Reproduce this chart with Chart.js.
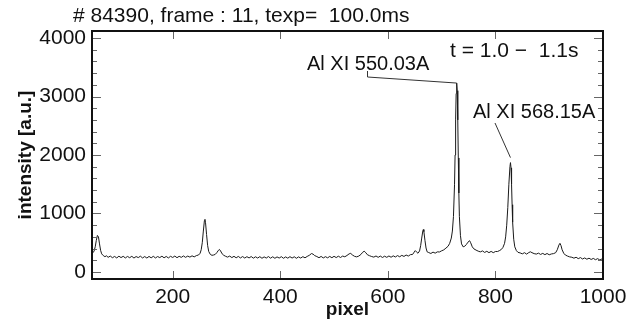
<!DOCTYPE html>
<html>
<head>
<meta charset="utf-8">
<script src="https://cdn.jsdelivr.net/npm/chart.js@4.4.1/dist/chart.umd.min.js"></script>
<style>
html,body{margin:0;padding:0;background:#fff;}
#wrap{width:640px;height:322px;}
</style>
</head>
<body>
<div id="wrap"><canvas id="spec"></canvas></div>
<script>
// spectrum (pixel, intensity)
var pixels = [50,52,54,56,58,60,62,64,66,68,71,74,77,80,84,88,92,96,100,104,108,112,116,120,124,128,132,136,140,144,148,152,156,160,164,168,172,176,180,184,188,192,196,200,204,208,212,216,220,224,228,232,236,240,244,248,251,253,255,257,259,260,261,263,265,267,270,273,276,279,282,285,287,289,292,295,298,302,306,310,314,318,322,326,330,334,338,342,346,350,354,358,362,366,370,374,378,382,386,390,394,398,402,406,410,414,418,422,426,430,434,438,442,446,450,454,458,461,464,468,472,476,480,484,488,492,496,500,504,508,512,516,520,524,528,531,534,538,542,546,550,553,556,559,562,566,570,574,578,582,586,590,594,598,602,606,610,614,618,622,626,630,634,638,642,646,649,651,653,656,659,661,663,665,666,667,669,671,673,676,680,684,688,692,696,700,704,708,712,715,718,720,722,724,725,726,727,728,729,730,731,732,733,735,737,740,743,746,749,752,754,757,760,764,768,772,776,780,784,788,792,796,800,804,808,811,814,817,819,821,823,825,827,828,829,830,831,832,834,836,839,842,846,850,854,858,862,865,868,872,876,880,884,888,892,896,900,904,908,912,915,918,920,922,924,927,930,934,938,942,946,950,954,958,962,966,970,974,978,982,986,990,994,998,1000];
var intensity = [315,330,360,430,540,625,600,480,370,310,
  280,262,276,250,272,244,266,240,270,246,268,240,266,244,268,238,264,246,270,240,264,238,266,242,268,240,264,246,270,242,266,240,268,248,272,244,268,250,274,250,272,254,276,258,280,
  290,320,380,500,700,880,900,850,640,450,350,300,285,290,300,330,370,385,360,310,285,270,
  254,272,246,268,242,266,240,264,238,262,240,264,236,260,238,262,234,258,238,264,236,260,234,258,238,262,234,258,236,262,238,260,234,258,238,262,242,266,
  285,315,305,280,
  264,244,266,240,262,242,266,244,268,246,270,248,272,260,282,
  310,318,292,268,258,272,300,335,355,330,295,
  278,264,254,274,250,272,248,270,250,274,252,276,256,280,260,284,266,290,272,296,300,
  340,365,345,320,360,450,580,700,725,690,540,410,345,
  332,316,340,322,344,342,362,378,408,440,
  490,580,700,950,1500,2000,2600,3050,3230,3100,2600,1950,1350,950,620,480,430,440,470,510,535,500,430,395,
  374,356,344,360,334,354,330,352,330,350,350,368,
  385,420,490,600,800,1100,1500,1800,1870,1780,1500,1150,850,560,430,365,335,
  326,310,330,306,332,345,330,314,306,322,300,318,296,316,294,308,314,330,
  380,460,490,450,380,320,290,
  272,258,252,236,252,228,246,222,240,218,236,214,232,210,228,206,222,205];
var xTicks = [200,400,600,800,1000];
var yTicks = [0,1000,2000,3000,4000];
var peakLabels = ['Al XI 550.03A','Al XI 568.15A'];
var peakPixels = [728,828];
var peakValues = [3230,1870];

var FONT = '"Liberation Sans", Arial, Helvetica, sans-serif';

var decor = {
  id: 'decor',
  afterDraw: function(chart){
    var c = chart.ctx, a = chart.chartArea;
    var xs = chart.scales.x, ys = chart.scales.y;
    c.save();
    // inside ticks on all four sides
    c.strokeStyle = '#666';
    c.lineWidth = 1;
    c.beginPath();
    for (var v = 0; v <= 4000; v += 200) {
      var py = Math.round(ys.getPixelForValue(v)) + 0.5;
      var len = (v % 1000 === 0) ? 9 : 5;
      c.moveTo(a.left, py); c.lineTo(a.left + len, py);
      c.moveTo(a.right, py); c.lineTo(a.right - len, py);
    }
    xTicks.forEach(function(t){
      var px = Math.round(xs.getPixelForValue(t)) + 0.5;
      c.moveTo(px, a.bottom); c.lineTo(px, a.bottom - 8);
      c.moveTo(px, a.top); c.lineTo(px, a.top + 8);
    });
    c.stroke();
    // frame
    c.strokeStyle = '#111';
    c.lineWidth = 2;
    c.strokeRect(a.left, a.top, a.right - a.left, a.bottom - a.top);
    // texts
    c.fillStyle = '#111';
    c.font = '21px ' + FONT;
    c.textBaseline = 'alphabetic';
    c.textAlign = 'left';
    c.fillText('# 84390, frame : 11, texp=  100.0ms', 73, 22);
    c.fillText('t = 1.0 \u2212  1.1s', 450, 57);
    c.font = '20px ' + FONT;
    c.fillText(peakLabels[0], 307, 70);
    c.fillText(peakLabels[1], 473, 118);
    // leader lines to the two lines
    c.strokeStyle = '#333';
    c.lineWidth = 1;
    var p1x = xs.getPixelForValue(peakPixels[0]), p1y = ys.getPixelForValue(peakValues[0]);
    var p2x = xs.getPixelForValue(peakPixels[1]), p2y = ys.getPixelForValue(peakValues[1]);
    c.beginPath();
    c.moveTo(367.5, 71); c.lineTo(367.5, 77); c.lineTo(p1x, p1y);
    c.moveTo(495, 123); c.lineTo(p2x, p2y - 5);
    c.stroke();
    c.restore();
  }
};

new Chart(document.getElementById('spec'), {
  type: 'line',
  data: {
    datasets: [{
      data: pixels.map(function(p, i){ return {x: p, y: intensity[i]}; }),
      borderColor: '#1a1a1a',
      borderWidth: 1,
      pointRadius: 0,
      tension: 0,
      fill: false
    }]
  },
  options: {
    responsive: true,
    maintainAspectRatio: false,
    animation: false,
    devicePixelRatio: 1,
    layout: { padding: { top: 31, right: 37, left: 0, bottom: 0 } },
    plugins: { legend: { display: false }, tooltip: { enabled: false }, title: { display: false } },
    scales: {
      x: {
        type: 'linear',
        min: 50, max: 1000,
        afterBuildTicks: function(ax){ ax.ticks = xTicks.map(function(v){ return {value: v}; }); },
        afterFit: function(ax){ ax.height = 43; },
        grid: { display: false, drawTicks: false },
        border: { display: false },
        ticks: { color: '#111', padding: 6, maxRotation: 0, font: { family: FONT, size: 21 },
                 callback: function(v){ return String(v); } },
        title: { display: true, text: 'pixel', color: '#111', padding: { top: 0, bottom: 1 }, font: { family: FONT, size: 19, weight: 'bold' } }
      },
      y: {
        min: -120, max: 4120,
        afterBuildTicks: function(ax){ ax.ticks = yTicks.map(function(v){ return {value: v}; }); },
        afterFit: function(ax){ ax.width = 92; },
        grid: { display: false, drawTicks: false },
        border: { display: false },
        ticks: { color: '#111', padding: 6, font: { family: FONT, size: 21 },
                 callback: function(v){ return String(v); } },
        title: { display: true, text: 'intensity [a.u.]', color: '#111', padding: { top: 14, bottom: 0 }, font: { family: FONT, size: 19, weight: 'bold' } }
      }
    }
  },
  plugins: [decor]
});
</script>
</body>
</html>
